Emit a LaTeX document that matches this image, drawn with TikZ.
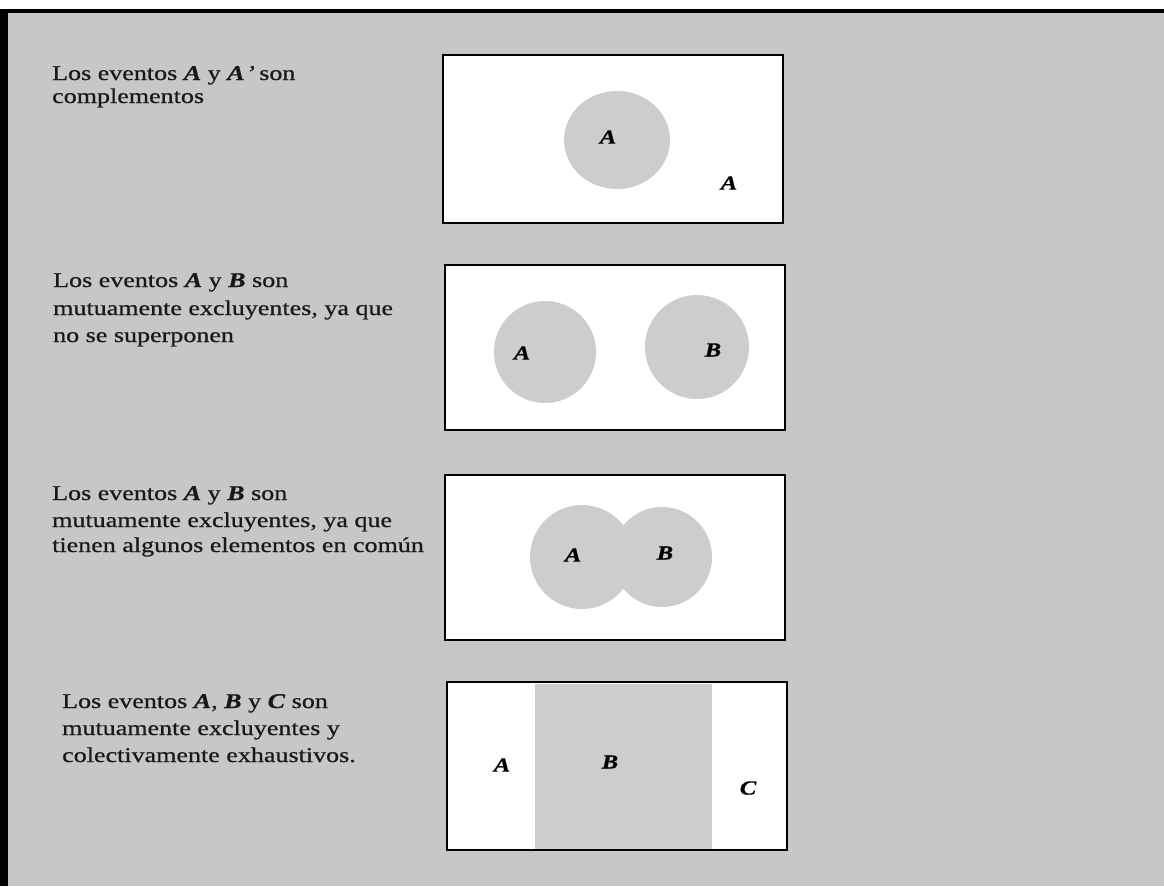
\documentclass[tikz,border=0pt]{standalone}
\usepackage{fontspec}
\setmainfont{Liberation Serif}[FakeStretch=1.24,FakeBold=0.7]
\begin{document}
\begin{tikzpicture}[x=1pt,y=-1pt,
  paper/.style={fill={rgb,255:red,198;green,199;blue,199}},
  region/.style={fill={rgb,255:red,205;green,205;blue,205}},
  venn/.style={draw=black,line width=2.6pt,fill=white},
  caption/.style={anchor=base west,inner sep=0pt,text=black!90,font=\fontsize{21}{25}\selectfont},
  setlabel/.style={inner sep=0pt,font=\fontsize{20}{24}\selectfont\bfseries\itshape}]
\useasboundingbox (0,0) rectangle (1164,886);
% sheet and scan edges
\fill[white] (0,0) rectangle (1164,886);
\fill[paper] (8,13) rectangle (1164,886);
\fill[black] (0,9) rectangle (1164,13);
\fill[black] (0,9) rectangle (8,886);

% ---- complements ----
\node[caption] (t1a) at (52,80) {Los eventos \textbf{\textit{A}} y \textbf{\textit{A}}\kern1.5pt\textit{\textquoteright}\kern-2pt{} son};
\node[caption] (t1b) at (52,103) {complementos};
\draw[venn] (443,55) rectangle (783,223);
\fill[region] (617,140) ellipse (53 and 49);
\node[setlabel] (a1) at (608,137) {A};
\node[setlabel] (a1c) at (729,183) {A};

% ---- disjoint events ----
\node[caption] (t2a) at (53,287) {Los eventos \textbf{\textit{A}} y \textbf{\textit{B}} son};
\node[caption] (t2b) at (53,315) {mutuamente excluyentes, ya que};
\node[caption] (t2c) at (53,342) {no se superponen};
\draw[venn] (445,265) rectangle (785,430);
\fill[region] (545,352) circle (51);
\fill[region] (697,347) circle (52);
\node[setlabel] (a2) at (522,353) {A};
\node[setlabel] (b2) at (713,350) {B};

% ---- overlapping events ----
\node[caption] (t3a) at (52,500) {Los eventos \textbf{\textit{A}} y \textbf{\textit{B}} son};
\node[caption] (t3b) at (52,527) {mutuamente excluyentes, ya que};
\node[caption] (t3c) at (52,552) {tienen algunos elementos en común};
\draw[venn] (445,475) rectangle (785,640);
\fill[region] (582,557) circle (52);
\fill[region] (662,557) circle (50);
\node[setlabel] (a3) at (573,555) {A};
\node[setlabel] (b3) at (665,553) {B};

% ---- partition ----
\node[caption] (t4a) at (62,708) {Los eventos \textbf{\textit{A}}, \textbf{\textit{B}} y \textbf{\textit{C}} son};
\node[caption] (t4b) at (62,735) {mutuamente excluyentes y};
\node[caption] (t4c) at (62,762) {colectivamente exhaustivos.};
\draw[venn] (447,682) rectangle (787,850);
\fill[region] (535,683.5) rectangle (712,848.5);
\draw[black,line width=2.6pt] (447,682) rectangle (787,850);
\node[setlabel] (a4) at (502,765) {A};
\node[setlabel] (b4) at (610,762) {B};
\node[setlabel] (c4) at (748,788) {C};
\end{tikzpicture}
\end{document}
